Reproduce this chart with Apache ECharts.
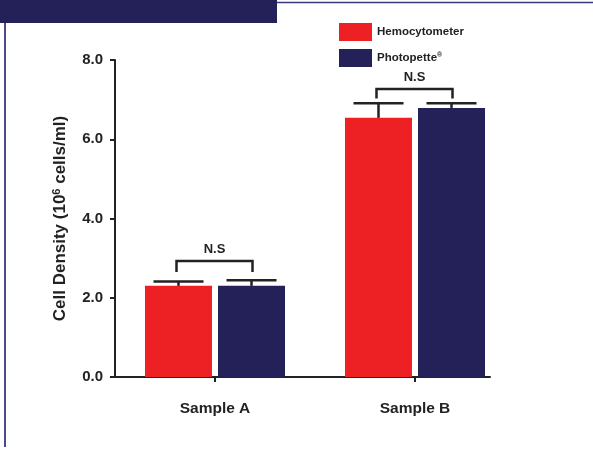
<!DOCTYPE html>
<html>
<head>
<meta charset="utf-8">
<script src="https://cdn.jsdelivr.net/npm/echarts@6/dist/echarts.min.js"></script>
<style>
html,body{margin:0;padding:0;background:#fff;}
#chart{width:593px;height:450px;}
</style>
</head>
<body>
<div id="chart"></div>
<script>
// ---- data ----
const categories = ['Sample A', 'Sample B'];
const hemocytometer = [2.30, 6.54];
const hemocytometerErr = [0.11, 0.37];
const photopette = [2.30, 6.79];
const photopetteErr = [0.14, 0.12];
const bracketTop = [2.93, 7.27];
const bracketLegBottom = [2.65, 7.03];
const bracketLabel = ['N.S', 'N.S'];
const yTicks = [0, 2, 4, 6, 8];

const RED = '#ED2024';
const NAVY = '#232157';
const INK = '#222222';
const FONT = '"Liberation Sans", Arial, Helvetica, sans-serif';
const BAR_W = 67;
const BAR_OFF = 36.5;

const chart = echarts.init(document.getElementById('chart'), null, {renderer: 'canvas'});

function errItem(offset) {
  return function (params, api) {
    const x = api.coord([api.value(0), api.value(1)]);
    const top = api.coord([api.value(0), api.value(1) + api.value(2)]);
    const cx = x[0] + offset;
    return {
      type: 'group',
      children: [
        {type: 'line', shape: {x1: cx, y1: x[1], x2: cx, y2: top[1]}, style: {stroke: INK, lineWidth: 2.5}},
        {type: 'line', shape: {x1: cx - 25, y1: top[1], x2: cx + 25, y2: top[1]}, style: {stroke: INK, lineWidth: 2.5}}
      ]
    };
  };
}

const option = {
  animation: false,
  backgroundColor: '#fff',
  textStyle: {fontFamily: FONT},
  graphic: [
    {type: 'rect', left: 0, top: 0, shape: {width: 277, height: 23}, style: {fill: NAVY}},
    {type: 'line', shape: {x1: 277, y1: 2.5, x2: 593, y2: 2.5}, style: {stroke: '#3a3a78', lineWidth: 1.5}},
    {type: 'line', shape: {x1: 5, y1: 23, x2: 5, y2: 447}, style: {stroke: '#4a4a8a', lineWidth: 2}}
  ],
  legend: {
    orient: 'vertical',
    left: 334,
    top: 18,
    itemWidth: 33,
    itemHeight: 18,
    itemGap: 8,
    icon: 'rect',
    textStyle: {
      fontFamily: FONT, fontWeight: 'bold', fontSize: 11.5, color: INK, padding: [0, 0, 0, 0],
      rich: {
        b: {fontFamily: FONT, fontWeight: 'bold', fontSize: 11.5, color: INK},
        sup: {fontFamily: FONT, fontWeight: 'bold', fontSize: 7, color: INK, verticalAlign: 'top', padding: [0, 0, 5, 0]}
      }
    },
    formatter: function (name) {
      if (name === 'Photopette') return '{b|Photopette}{sup|®}';
      return '{b|' + name + '}';
    },
    data: ['Hemocytometer', 'Photopette']
  },
  grid: [
    {left: 115, right: 78, top: 60, bottom: 73},
    {left: 115, width: 375, top: 60, bottom: 73}
  ],
  xAxis: [{
    type: 'category',
    data: categories,
    axisLine: {show: false},
    axisTick: {show: true, alignWithLabel: true, length: 5, inside: false, lineStyle: {color: INK, width: 2}},
    axisLabel: {fontFamily: FONT, fontWeight: 'bold', fontSize: 15.5, color: INK, margin: 24}
  }, {
    // baseline only
    type: 'value', gridIndex: 1, min: 0, max: 1, position: 'bottom',
    axisLine: {show: true, onZero: false, lineStyle: {color: INK, width: 2}},
    axisTick: {show: false}, axisLabel: {show: false}, splitLine: {show: false}
  }],
  yAxis: [{
    type: 'value',
    min: 0,
    max: 8,
    interval: 2,
    name: '{t|Cell Density (10}{s|6}{t| cells/ml)}',
    nameLocation: 'middle',
    nameRotate: 90,
    nameGap: 45,
    nameTextStyle: {
      rich: {
        t: {fontFamily: FONT, fontWeight: 'bold', fontSize: 17, color: INK},
        s: {fontFamily: FONT, fontWeight: 'bold', fontSize: 11, color: INK, verticalAlign: 'top', padding: [0, 0, 8, 0]}
      }
    },
    splitLine: {show: false},
    axisLine: {show: true, lineStyle: {color: INK, width: 2}},
    axisTick: {show: true, length: 5, lineStyle: {color: INK, width: 2}},
    axisLabel: {
      fontFamily: FONT, fontWeight: 'bold', fontSize: 15, color: INK, margin: 12,
      formatter: function (v) { return yTicks.indexOf(v) >= 0 ? v.toFixed(1) : ''; }
    }
  }, {
    type: 'value', gridIndex: 1, min: 0, max: 1, show: false
  }],
  series: [
    {
      name: 'Hemocytometer', type: 'bar', data: hemocytometer, barWidth: BAR_W, barGap: '9%',
      itemStyle: {color: RED}, z: 2
    },
    {
      name: 'Photopette', type: 'bar', data: photopette, barWidth: BAR_W, barGap: '9%',
      itemStyle: {color: NAVY}, z: 2
    },
    {
      type: 'custom', name: 'errH', renderItem: errItem(-BAR_OFF), z: 3,
      data: categories.map((c, i) => [i, hemocytometer[i], hemocytometerErr[i]])
    },
    {
      type: 'custom', name: 'errP', renderItem: errItem(BAR_OFF), z: 3,
      data: categories.map((c, i) => [i, photopette[i], photopetteErr[i]])
    },
    {
      type: 'custom', name: 'bracket', z: 3,
      data: categories.map((c, i) => [i, bracketTop[i], bracketLegBottom[i]]),
      renderItem: function (params, api) {
        const t = api.coord([api.value(0), api.value(1)]);
        const b = api.coord([api.value(0), api.value(2)]);
        const l = t[0] - BAR_OFF - 2, r = t[0] + BAR_OFF + 1;
        return {
          type: 'group',
          children: [
            {type: 'polyline', shape: {points: [[l, b[1]], [l, t[1]], [r, t[1]], [r, b[1]]]}, style: {stroke: INK, lineWidth: 2.5, fill: null}},
            {type: 'text', style: {text: bracketLabel[params.dataIndex], x: (l + r) / 2, y: t[1] - 5, textAlign: 'center', textVerticalAlign: 'bottom', font: 'bold 13px ' + FONT, fill: INK}}
          ]
        };
      }
    }
  ]
};

chart.setOption(option);
</script>
</body>
</html>
